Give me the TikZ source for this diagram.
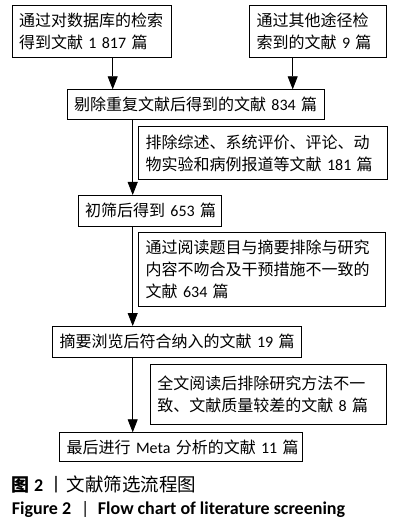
\documentclass[tikz,border=0pt]{standalone}
\usepackage{fontspec}
\setmainfont{Noto Sans CJK SC}
\newfontfamily\lat{Carlito}
\usetikzlibrary{arrows.meta}
\tikzset{
  bx/.style={draw, line width=0.8pt, anchor=north west, inner xsep=7pt, inner ysep=0pt,
    align=left, font=\fontsize{16}{22}\selectfont},
  arr/.style={line width=0.8pt, -{Triangle[length=13pt,width=10pt]}},
  captxt/.style={anchor=base west, inner sep=0pt}
}
\begin{document}
\begin{tikzpicture}[x=1pt,y=-1pt]
\useasboundingbox (0,0) rectangle (419,526);
\node[bx, text width=145pt, minimum height=52.3pt] (b1) at (11.7,5) {通过对数据库的检索\\得到文献~{\lat 1~817}~篇};
\node[bx, text width=122.4pt, minimum height=52.3pt] (b2) at (249.3,5) {通过其他途径检\\索到的文献~{\lat 9}~篇};
\node[bx, text width=243.6pt, minimum height=29.7pt] (b3) at (66.7,89.3) {剔除重复文献后得到的文献~{\lat 834}~篇};
\node[bx, text width=234.4pt, minimum height=53.3pt] (b4) at (138.3,126) {排除综述、系统评价、评论、动\\物实验和病例报道等文献~{\lat 181}~篇};
\node[bx, text width=129pt, minimum height=30.7pt] (b5) at (77.7,195) {初筛后得到~{\lat 653}~篇};
\node[bx, text width=232.7pt, minimum height=74.3pt] (b6) at (138.3,231.7) {通过阅读题目与摘要排除与研究\\内容不吻合及干预措施不一致的\\文献~{\lat 634}~篇};
\node[bx, text width=234.4pt, minimum height=30.7pt] (b7) at (52.3,326) {摘要浏览后符合纳入的文献~{\lat 19}~篇};
\node[bx, text width=221.7pt, minimum height=60.3pt] (b8) at (150,364) {全文阅读后排除研究方法不一\\致、文献质量较差的文献~{\lat 8}~篇};
\node[bx, text width=228.4pt, minimum height=28.7pt] (b9) at (59.3,432.3) {最后进行~{\lat Meta}~分析的文献~{\lat 11}~篇};
\coordinate (x1) at (112.7,0);
\coordinate (x2) at (292.7,0);
\coordinate (xt) at (132.7,0);
\draw[arr] (b1.south -| x1) -- (b3.north -| x1);
\draw[arr] (b2.south -| x2) -- (b3.north -| x2);
\draw[arr] (b3.south -| xt) -- (b5.north -| xt);
\draw[arr] (b5.south -| xt) -- (b7.north -| xt);
\draw[arr] (b7.south -| xt) -- (b9.north -| xt);
\node[captxt, font=\fontsize{18}{20}\selectfont\bfseries] (c1a) at (11.7,491) {图~{\lat 2}};
\node[captxt, font=\fontsize{18}{20}\selectfont] (c1b) at (47,491) {丨};
\node[captxt, font=\fontsize{18.5}{20}\selectfont] (c1c) at (66.7,491) {文献筛选流程图};
\node[captxt, font=\fontsize{18}{20}\selectfont\lat\bfseries] (c2a) at (11.7,514.3) {Figure~2};
\node[captxt, font=\fontsize{18}{20}\selectfont\lat] (c2b) at (81,514.3) {|};
\node[captxt, font=\fontsize{18}{20}\selectfont\lat\bfseries] (c2c) at (97.7,514.3) {Flow chart of literature screening};
\end{tikzpicture}
\end{document}
